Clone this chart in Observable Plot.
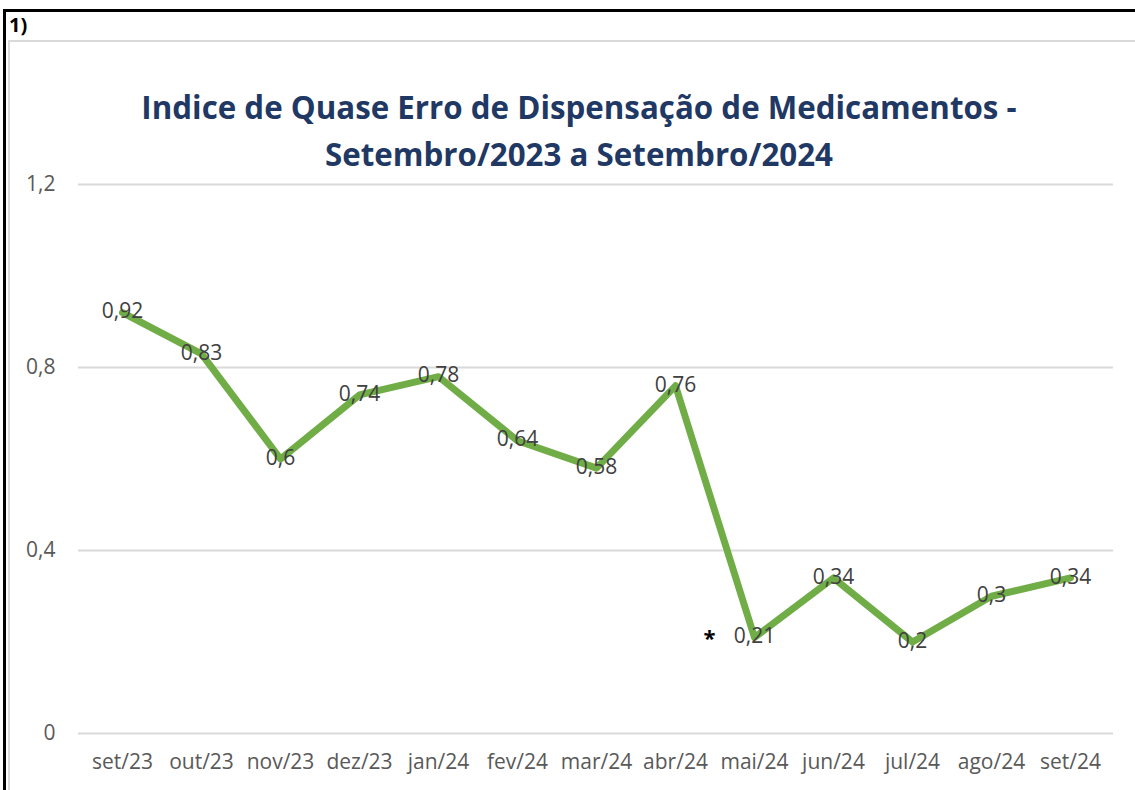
<!DOCTYPE html>
<html>
<head>
<meta charset="utf-8">
<script src="https://cdn.jsdelivr.net/npm/d3@7"></script>
<script src="https://cdn.jsdelivr.net/npm/@observablehq/plot@0.6"></script>
<style>
  html, body { margin: 0; padding: 0; background: #fff; }
  #page { position: relative; width: 1135px; height: 790px; overflow: hidden; font-family: "Open Sans", sans-serif; }
  #frameTop { position: absolute; left: 3px; top: 9px; width: 1132px; height: 3px; background: #000; }
  #frameLeft { position: absolute; left: 3px; top: 9px; width: 3px; height: 781px; background: #000; }
  #cellLine { position: absolute; left: 8px; top: 40px; width: 1127px; height: 2px; background: #d9d9d9; }
  #cellLeft { position: absolute; left: 8px; top: 40px; width: 2px; height: 750px; background: #d9d9d9; }
  #num { position: absolute; left: 9px; top: 13px; font-family: "Open Sans", sans-serif; font-weight: bold; font-size: 20px; line-height: 24px; color: #000; z-index: 3; }
  #title { position: absolute; left: 0; width: 1158px; top: 84px; text-align: center; font: bold 31.3px "Open Sans", sans-serif; color: #1f3864; line-height: 47px; z-index: 2; }
  #chart { position: absolute; left: 0; top: 0; }
  #chart svg g[aria-label="x-axis tick label"] text,
  #chart svg g[aria-label="y-axis tick label"] text { font-size: 21px; }
</style>
</head>
<body>
<div id="page">
  <div id="frameTop"></div>
  <div id="frameLeft"></div>
  <div id="cellLine"></div>
  <div id="cellLeft"></div>
  <div id="chart"></div>
  <div id="num">1)</div>
  <div id="title">Indice de Quase Erro de Dispensação de Medicamentos -<br>Setembro/2023 a Setembro/2024</div>
</div>
<script>
const months = ["set/23","out/23","nov/23","dez/23","jan/24","fev/24","mar/24","abr/24","mai/24","jun/24","jul/24","ago/24","set/24"];
const values = [0.92, 0.83, 0.6, 0.74, 0.78, 0.64, 0.58, 0.76, 0.21, 0.34, 0.2, 0.3, 0.34];
const yTicks = [0, 0.4, 0.8, 1.2];
const noteMonths = ["mai/24"];
const noteLabels = ["*"];

const data = months.map((m, i) => ({month: m, value: values[i]}));
const notes = noteMonths.map((m, i) => ({month: m, value: values[months.indexOf(m)], label: noteLabels[i]}));
const fmt = v => String(v).replace(".", ",");

const chart = Plot.plot({
  width: 1135,
  height: 790,
  marginTop: 184,
  marginBottom: 57,
  marginLeft: 78,
  marginRight: 22,
  style: {fontFamily: "'Open Sans', sans-serif", fontSize: "21px", background: "transparent", overflow: "visible"},
  x: {type: "point", domain: months, padding: 0.5, label: null, tickSize: 0, tickPadding: 22},
  y: {domain: [0, 1.2], ticks: yTicks, tickFormat: fmt, label: null, tickSize: 0, tickPadding: 23},
  marks: [
    Plot.ruleY(yTicks, {stroke: "#d9d9d9", strokeWidth: 2}),
    Plot.axisX({tickSize: 0, tickPadding: 21, fill: "#595959", fontSize: 21, label: null}),
    Plot.axisY({ticks: yTicks, tickFormat: fmt, tickSize: 0, tickPadding: 23, fill: "#595959", fontSize: 21, label: null}),
    Plot.line(data, {x: "month", y: "value", stroke: "#70ad47", strokeWidth: 7, strokeLinejoin: "round", strokeLinecap: "round"}),
    Plot.text(data, {x: "month", y: "value", text: d => fmt(d.value), fill: "#404040", fontSize: 21, dy: -1}),
    Plot.text(notes, {x: "month", y: "value", text: "label", fill: "#000", fontSize: 22, fontWeight: "bold", dx: -45, dy: 2})
  ]
});
document.getElementById("chart").appendChild(chart);
</script>
</body>
</html>
